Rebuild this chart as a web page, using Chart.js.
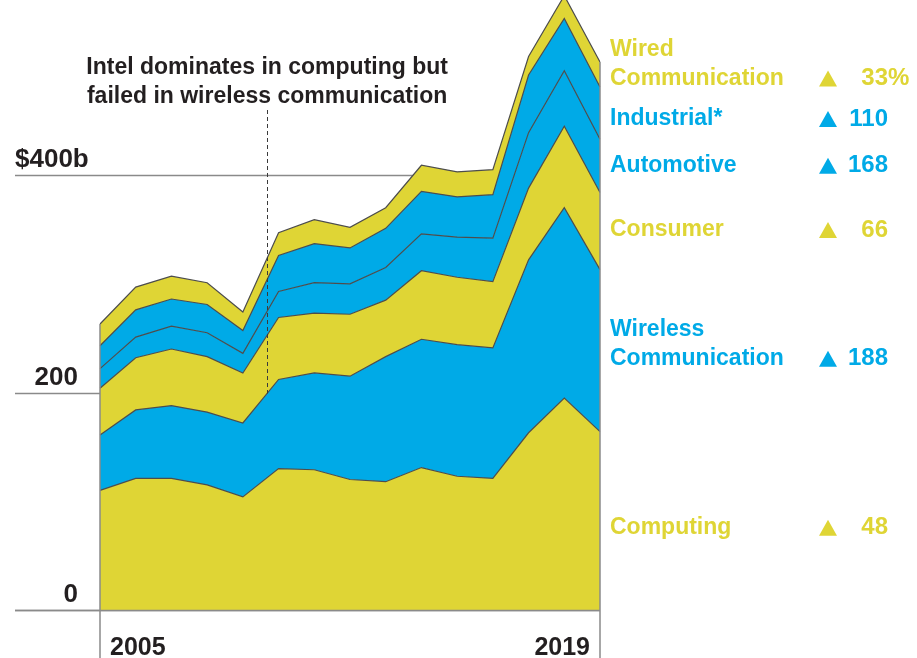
<!DOCTYPE html>
<html>
<head>
<meta charset="utf-8">
<script src="https://cdn.jsdelivr.net/npm/chart.js@4.4.1/dist/chart.umd.min.js"></script>
<style>
  html, body { margin: 0; padding: 0; background: #fff; }
  #wrap { width: 917px; height: 658px; position: relative; overflow: hidden; }
</style>
</head>
<body>
<div id="wrap"><canvas id="chart" width="917" height="658"></canvas></div>
<script>
// Semiconductor revenue by industry, $b
const years = ["2005","2006","2007","2008","2009","2010","2011","2012","2013","2014","2015","2016","2017","2018","2019"];
const computing  = [110, 121, 121, 115, 104, 130, 129, 120, 118, 131, 123, 121, 163, 195, 164];
const wireless   = [51, 63, 67, 67, 68, 82, 89, 95, 115, 118, 121, 120, 159, 175, 149];
const consumer   = [43, 48, 52, 51, 46, 57, 55, 57, 52, 63, 62, 61, 66, 75, 71];
const automotive = [18, 19, 21, 22, 18, 24, 28, 28, 30, 34, 37, 40, 51, 51, 49];
const industrial = [21, 25, 25, 26, 21, 33, 36, 33, 36, 39, 37, 40, 53, 48, 48];
const wired      = [20, 21, 21, 20, 17, 21, 22, 19, 19, 24, 23, 23, 17, 21, 23];

const seriesNames = [["Computing"], ["Wireless", "Communication"], ["Consumer"], ["Automotive"], ["Industrial*"], ["Wired", "Communication"]];
const growth = ["48", "188", "66", "168", "110", "33"];
const yTicks = [0, 200, 400];

const YELLOW = "#DFD535";
const BLUE = "#00AAE7";
const seriesColors = [YELLOW, BLUE, YELLOW, BLUE, BLUE, YELLOW];
const labelNudge = [7, 8, -1, 0, 6, 4];
const annotationAt = 4.68; // between 2009 and 2010

const FONT = '"Liberation Sans", Arial, sans-serif';

const decorPlugin = {
    id: "decor",
    beforeDatasetsDraw(chart) {
        const ctx = chart.ctx;
        const y = chart.scales.y;
        const area = chart.chartArea;
        ctx.save();
        ctx.strokeStyle = "#8a8a8a";
        ctx.lineWidth = 1.5;
        yTicks.forEach(v => {
            const py = Math.round(y.getPixelForValue(v)) + 0.5;
            ctx.beginPath();
            ctx.moveTo(15, py);
            ctx.lineTo(area.right, py);
            ctx.stroke();
        });
        ctx.restore();
    },
    afterDatasetsDraw(chart) {
        const ctx = chart.ctx;
        const x = chart.scales.x;
        const y = chart.scales.y;
        const area = chart.chartArea;
        const last = years.length - 1;
        const all = [computing, wireless, consumer, automotive, industrial, wired];
        const total = i => all.reduce((s, arr) => s + arr[i], 0);

        ctx.save();
        // edges of the area and year ticks
        ctx.strokeStyle = "#8a8a8a";
        ctx.lineWidth = 1.5;
        [[0, x.getPixelForValue(0)], [last, x.getPixelForValue(last)]].forEach(([i, px]) => {
            ctx.beginPath();
            ctx.moveTo(px, y.getPixelForValue(total(i)));
            ctx.lineTo(px, chart.height);
            ctx.stroke();
        });
        const zeroY = Math.round(y.getPixelForValue(0)) + 0.5;
        ctx.beginPath();
        ctx.moveTo(15, zeroY);
        ctx.lineTo(area.right, zeroY);
        ctx.stroke();

        // annotation
        const ax = x.getPixelForValue(annotationAt);
        const f = annotationAt - Math.floor(annotationAt);
        const i0 = Math.floor(annotationAt);
        const b2 = k => computing[k] + wireless[k];
        const endVal = b2(i0) + (b2(i0 + 1) - b2(i0)) * f;
        ctx.strokeStyle = "#3a3a3a";
        ctx.lineWidth = 1;
        ctx.setLineDash([4, 3]);
        ctx.beginPath();
        ctx.moveTo(Math.round(ax) + 0.5, 110);
        ctx.lineTo(Math.round(ax) + 0.5, y.getPixelForValue(endVal));
        ctx.stroke();
        ctx.setLineDash([]);

        ctx.fillStyle = "#231f20";
        ctx.font = "bold 23px " + FONT;
        ctx.textAlign = "center";
        ctx.textBaseline = "middle";
        ctx.fillText("Intel dominates in computing but", ax, 68);
        ctx.fillText("failed in wireless communication", ax, 97);

        // y tick labels
        ctx.font = "bold 26px " + FONT;
        ctx.textBaseline = "alphabetic";
        yTicks.forEach(v => {
            const py = y.getPixelForValue(v) - 8;
            if (v === yTicks[yTicks.length - 1]) {
                ctx.textAlign = "left";
                ctx.fillText("$" + v + "b", 15, py);
            } else {
                ctx.textAlign = "right";
                ctx.fillText(String(v), 78, py);
            }
        });

        // year labels
        ctx.font = "bold 25px " + FONT;
        ctx.textAlign = "left";
        ctx.fillText(years[0], x.getPixelForValue(0) + 10, 655);
        ctx.textAlign = "right";
        ctx.fillText(years[last], x.getPixelForValue(last) - 10, 655);

        // series labels at the right
        let base = 0;
        all.forEach((arr, k) => {
            const top = base + arr[last];
            const mid = (y.getPixelForValue(base) + y.getPixelForValue(top)) / 2 + labelNudge[k];
            base = top;
            const lines = seriesNames[k];
            ctx.fillStyle = seriesColors[k];
            ctx.font = "bold 23px " + FONT;
            ctx.textAlign = "left";
            ctx.textBaseline = "middle";
            lines.forEach((ln, j) => {
                ctx.fillText(ln, 610, mid - (lines.length - 1 - j) * 29);
            });
            // triangle
            ctx.beginPath();
            ctx.moveTo(819, mid + 8);
            ctx.lineTo(837, mid + 8);
            ctx.lineTo(828, mid - 8);
            ctx.closePath();
            ctx.fill();
            ctx.font = "bold 24px " + FONT;
            ctx.textAlign = "right";
            ctx.fillText(growth[k], 888, mid);
            if (k === all.length - 1) {
                ctx.textAlign = "left";
                ctx.fillText("%", 888, mid);
            }
        });
        ctx.restore();
    }
};

function layer(label, data, color, fill) {
    return {
        label: label,
        data: data,
        backgroundColor: color,
        borderColor: "#4d4d4d",
        borderWidth: 1.2,
        pointRadius: 0,
        tension: 0,
        fill: fill
    };
}

new Chart(document.getElementById("chart"), {
    type: "line",
    data: {
        labels: years,
        datasets: [
            layer("Computing", computing, YELLOW, "origin"),
            layer("Wireless Communication", wireless, BLUE, "-1"),
            layer("Consumer", consumer, YELLOW, "-1"),
            layer("Automotive", automotive, BLUE, "-1"),
            layer("Industrial*", industrial, BLUE, "-1"),
            layer("Wired Communication", wired, YELLOW, "-1")
        ]
    },
    options: {
        responsive: false,
        animation: false,
        layout: { padding: { left: 100, right: 317, top: 0, bottom: 48 } },
        plugins: { legend: { display: false }, tooltip: { enabled: false } },
        scales: {
            x: { display: false, offset: false },
            y: { display: false, stacked: true, min: 0, max: 561 }
        }
    },
    plugins: [decorPlugin]
});
</script>
</body>
</html>
